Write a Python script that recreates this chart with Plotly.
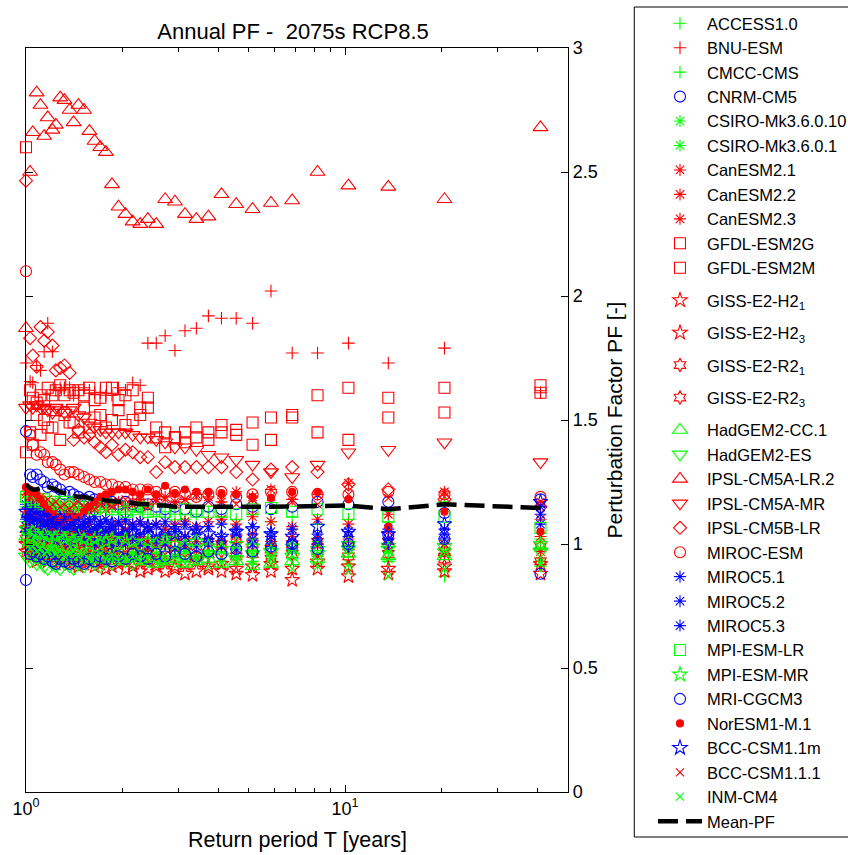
import plotly.graph_objects as go

# Return periods (years) of the ranked annual values, largest first
T = [41.0, 20.5, 13.67, 10.25, 8.2, 6.83, 5.86, 5.13, 4.56, 4.1, 3.73, 3.42, 3.15, 2.93, 2.73,
     2.56, 2.41, 2.28, 2.16, 2.05, 1.95, 1.86, 1.78, 1.71, 1.64, 1.58, 1.52, 1.46, 1.41, 1.37,
     1.32, 1.28, 1.24, 1.21, 1.17, 1.14, 1.11, 1.08, 1.05, 1.03, 1.0]

ACCESS1_0 = [0.91, 0.87, 0.93, 0.95, 0.92, 0.94, 0.96, 0.93, 0.95, 0.97, 0.96, 0.94, 0.95, 0.97, 0.98, 0.96, 0.97, 0.99, 0.98, 0.97, 0.99, 1.00, 0.98, 0.99, 1.01, 1.00, 1.02, 1.01, 1.03, 1.02, 1.04, 1.03, 1.05, 1.04, 1.06, 1.05, 1.07, 1.06, 1.08, 1.10, 1.12]
BNU_ESM = [1.61, 1.79, 1.73, 1.81, 1.77, 1.77, 2.02, 1.89, 1.91, 1.91, 1.92, 1.87, 1.86, 1.78, 1.84, 1.81, 1.81, 1.64, 1.65, 1.62, 1.63, 1.60, 1.60, 1.61, 1.61, 1.62, 1.63, 1.62, 1.60, 1.63, 1.63, 1.63, 1.62, 1.775, 1.89, 1.775, 1.70, 1.72, 1.65, 1.655, 1.73]
CMCC_CMS = [1.02, 1.17, 1.09, 1.10, 1.08, 1.11, 1.09, 1.12, 1.10, 1.11, 1.13, 1.12, 1.10, 1.12, 1.13, 1.11, 1.12, 1.14, 1.13, 1.12, 1.14, 1.13, 1.15, 1.14, 1.13, 1.15, 1.14, 1.16, 1.15, 1.14, 1.16, 1.15, 1.17, 1.16, 1.15, 1.17, 1.16, 1.18, 1.17, 1.16, 1.15]
CNRM_CM5 = [1.18, 1.125, 1.17, 1.16, 1.17, 1.15, 1.14, 1.15, 1.16, 1.14, 1.15, 1.13, 1.14, 1.15, 1.14, 1.15, 1.16, 1.15, 1.16, 1.17, 1.16, 1.17, 1.18, 1.17, 1.18, 1.19, 1.18, 1.19, 1.20, 1.21, 1.20, 1.22, 1.23, 1.24, 1.23, 1.25, 1.26, 1.28, 1.27, 1.28, 1.455]
CSIRO_10 = [0.98, 1.00, 0.97, 0.99, 1.01, 0.98, 1.00, 1.02, 0.99, 1.01, 1.00, 1.02, 1.01, 1.03, 1.02, 1.00, 1.02, 1.03, 1.01, 1.03, 1.04, 1.02, 1.04, 1.03, 1.05, 1.04, 1.03, 1.05, 1.06, 1.04, 1.06, 1.05, 1.07, 1.06, 1.05, 1.07, 1.08, 1.06, 1.08, 1.07, 1.09]
CSIRO_1 = [0.93, 0.96, 0.94, 0.92, 0.95, 0.97, 0.94, 0.96, 0.95, 0.93, 0.96, 0.95, 0.97, 0.95, 0.94, 0.96, 0.95, 0.97, 0.96, 0.95, 0.97, 0.96, 0.98, 0.97, 0.96, 0.98, 0.97, 0.99, 0.98, 0.97, 0.99, 0.98, 1.00, 0.99, 0.98, 1.00, 0.99, 1.01, 1.00, 0.99, 1.01]
CanESM2_1 = [1.10, 1.21, 1.12, 1.245, 1.20, 1.18, 1.22, 1.19, 1.21, 1.17, 1.19, 1.20, 1.18, 1.17, 1.19, 1.18, 1.16, 1.18, 1.17, 1.15, 1.17, 1.16, 1.14, 1.16, 1.15, 1.13, 1.15, 1.14, 1.12, 1.14, 1.13, 1.11, 1.13, 1.12, 1.14, 1.13, 1.15, 1.14, 1.16, 1.18, 1.20]
CanESM2_2 = [1.03, 1.00, 1.05, 1.08, 1.10, 1.07, 1.09, 1.11, 1.08, 1.10, 1.09, 1.07, 1.09, 1.08, 1.06, 1.08, 1.07, 1.09, 1.08, 1.06, 1.08, 1.07, 1.05, 1.07, 1.06, 1.08, 1.07, 1.05, 1.07, 1.06, 1.08, 1.07, 1.09, 1.08, 1.10, 1.09, 1.11, 1.10, 1.12, 1.11, 1.13]
CanESM2_3 = [0.97, 0.96, 0.99, 1.02, 1.00, 1.03, 1.01, 1.04, 1.02, 1.00, 1.02, 1.01, 1.03, 1.02, 1.00, 1.02, 1.01, 1.03, 1.02, 1.04, 1.03, 1.01, 1.03, 1.02, 1.04, 1.03, 1.05, 1.04, 1.02, 1.04, 1.03, 1.05, 1.04, 1.06, 1.05, 1.03, 1.05, 1.06, 1.04, 1.06, 1.07]
GFDL_ESM2G = [1.64, 1.63, 1.59, 1.63, 1.60, 1.52, 1.51, 1.49, 1.46, 1.48, 1.45, 1.47, 1.45, 1.43, 1.45, 1.47, 1.59, 1.55, 1.62, 1.60, 1.58, 1.63, 1.63, 1.59, 1.58, 1.63, 1.60, 1.62, 1.61, 1.62, 1.60, 1.64, 1.62, 1.60, 1.63, 1.58, 1.60, 1.57, 1.59, 1.62, 2.60]
GFDL_ESM2M = [1.61, 1.53, 1.51, 1.42, 1.45, 1.51, 1.42, 1.40, 1.44, 1.45, 1.42, 1.43, 1.41, 1.43, 1.39, 1.43, 1.55, 1.52, 1.50, 1.48, 1.54, 1.50, 1.47, 1.52, 1.51, 1.47, 1.55, 1.45, 1.49, 1.49, 1.52, 1.42, 1.54, 1.47, 1.47, 1.50, 1.44, 1.52, 1.40, 1.45, 1.37]
GISS_H2_1 = [0.88, 0.89, 0.88, 0.87, 0.90, 0.855, 0.89, 0.875, 0.88, 0.89, 0.90, 0.89, 0.88, 0.90, 0.89, 0.91, 0.90, 0.89, 0.91, 0.90, 0.92, 0.91, 0.90, 0.92, 0.91, 0.93, 0.92, 0.91, 0.93, 0.92, 0.94, 0.93, 0.92, 0.94, 0.93, 0.95, 0.94, 0.93, 0.95, 0.96, 0.97]
GISS_H2_3 = [0.92, 0.91, 0.90, 0.91, 0.93, 0.90, 0.92, 0.91, 0.90, 0.92, 0.91, 0.93, 0.92, 0.91, 0.93, 0.92, 0.94, 0.93, 0.92, 0.94, 0.93, 0.95, 0.94, 0.93, 0.95, 0.94, 0.96, 0.95, 0.94, 0.96, 0.95, 0.97, 0.96, 0.95, 0.97, 0.96, 0.98, 0.97, 0.99, 0.98, 1.00]
GISS_R2_1 = [0.93, 0.94, 0.96, 0.95, 0.97, 0.96, 0.94, 0.96, 0.95, 0.97, 0.96, 0.95, 0.97, 0.96, 0.98, 0.97, 0.96, 0.98, 0.97, 0.99, 0.98, 0.97, 0.99, 0.98, 1.00, 0.99, 0.98, 1.00, 0.99, 1.01, 1.00, 0.99, 1.01, 1.00, 1.02, 1.01, 1.00, 1.02, 1.01, 1.03, 1.02]
GISS_R2_3 = [0.99, 0.97, 1.01, 0.99, 1.01, 1.00, 0.98, 1.00, 1.02, 1.00, 1.01, 0.99, 1.01, 1.00, 1.02, 1.01, 0.99, 1.01, 1.00, 1.02, 1.01, 1.03, 1.02, 1.00, 1.02, 1.01, 1.03, 1.02, 1.04, 1.03, 1.01, 1.03, 1.02, 1.04, 1.03, 1.05, 1.04, 1.02, 1.04, 1.05, 1.06]
HadGEM2_CC = [0.99, 0.95, 0.95, 0.96, 0.94, 0.93, 0.92, 0.91, 0.93, 0.92, 0.94, 0.93, 0.92, 0.94, 0.93, 0.92, 0.94, 0.93, 0.95, 0.94, 0.93, 0.95, 0.94, 0.96, 0.95, 0.94, 0.96, 0.95, 0.97, 0.96, 0.95, 0.97, 0.96, 0.98, 0.97, 0.96, 0.98, 1.00, 0.99, 1.01, 1.03]
HadGEM2_ES = [0.97, 0.99, 0.99, 0.98, 0.96, 0.95, 0.97, 0.96, 0.94, 0.95, 0.96, 0.94, 0.95, 0.93, 0.94, 0.95, 0.93, 0.94, 0.92, 0.93, 0.94, 0.92, 0.93, 0.91, 0.92, 0.93, 0.91, 0.92, 0.90, 0.91, 0.92, 0.90, 0.91, 0.92, 0.90, 0.91, 0.93, 0.92, 0.94, 0.93, 0.95]
IPSL_CM5A_LR = [2.68, 2.39, 2.44, 2.445, 2.50, 2.385, 2.375, 2.35, 2.37, 2.41, 2.32, 2.31, 2.33, 2.38, 2.39, 2.29, 2.31, 2.29, 2.30, 2.33, 2.36, 2.45, 2.58, 2.60, 2.625, 2.665, 2.75, 2.77, 2.70, 2.75, 2.79, 2.80, 2.69, 2.67, 2.72, 2.645, 2.77, 2.82, 2.66, 2.50, 1.87]
IPSL_CM5A_MR = [1.33, 1.41, 1.38, 1.37, 1.32, 1.27, 1.29, 1.32, 1.34, 1.35, 1.36, 1.38, 1.39, 1.39, 1.41, 1.42, 1.43, 1.43, 1.44, 1.45, 1.45, 1.45, 1.45, 1.46, 1.47, 1.49, 1.51, 1.52, 1.55, 1.54, 1.53, 1.54, 1.55, 1.53, 1.54, 1.55, 1.55, 1.56, 1.55, 1.56, 1.55]
IPSL_CM5B_LR = [1.15, 1.18, 1.22, 1.24, 1.29, 1.31, 1.30, 1.26, 1.29, 1.31, 1.31, 1.31, 1.31, 1.31, 1.33, 1.29, 1.35, 1.35, 1.37, 1.38, 1.36, 1.40, 1.37, 1.39, 1.41, 1.44, 1.43, 1.46, 1.42, 1.69, 1.72, 1.71, 1.70, 1.80, 1.855, 1.82, 1.875, 1.715, 1.76, 1.83, 2.465]
MIROC_ESM = [1.19, 1.20, 1.21, 1.20, 1.20, 1.21, 1.21, 1.20, 1.19, 1.21, 1.20, 1.19, 1.20, 1.21, 1.21, 1.21, 1.22, 1.22, 1.22, 1.23, 1.23, 1.24, 1.24, 1.25, 1.25, 1.26, 1.27, 1.28, 1.29, 1.29, 1.28, 1.30, 1.32, 1.33, 1.33, 1.36, 1.37, 1.36, 1.40, 1.44, 2.10]
MIROC5_1 = [1.15, 1.06, 1.02, 1.05, 1.04, 1.06, 1.05, 1.07, 1.06, 1.08, 1.07, 1.06, 1.08, 1.07, 1.09, 1.08, 1.07, 1.09, 1.08, 1.10, 1.09, 1.08, 1.10, 1.09, 1.11, 1.10, 1.09, 1.11, 1.10, 1.12, 1.11, 1.10, 1.12, 1.11, 1.13, 1.12, 1.14, 1.13, 1.15, 1.14, 1.16]
MIROC5_2 = [1.12, 1.04, 1.06, 1.03, 1.02, 1.01, 1.03, 1.02, 1.04, 1.03, 1.02, 1.04, 1.03, 1.05, 1.04, 1.03, 1.05, 1.04, 1.06, 1.05, 1.04, 1.06, 1.05, 1.07, 1.06, 1.05, 1.07, 1.06, 1.08, 1.07, 1.06, 1.08, 1.07, 1.09, 1.08, 1.07, 1.09, 1.10, 1.09, 1.11, 1.10]
MIROC5_3 = [1.08, 1.02, 1.00, 0.99, 1.00, 0.98, 0.99, 1.00, 0.98, 0.99, 1.01, 0.99, 1.00, 0.98, 1.00, 1.01, 0.99, 1.00, 1.02, 1.00, 1.01, 0.99, 1.01, 1.02, 1.00, 1.02, 1.01, 1.03, 1.02, 1.00, 1.02, 1.03, 1.01, 1.03, 1.04, 1.02, 1.04, 1.05, 1.03, 1.06, 1.05]
MPI_ESM_LR = [1.065, 1.11, 1.11, 1.12, 1.14, 1.13, 1.145, 1.14, 1.12, 1.13, 1.13, 1.13, 1.14, 1.12, 1.13, 1.14, 1.13, 1.15, 1.14, 1.13, 1.15, 1.14, 1.16, 1.15, 1.14, 1.16, 1.15, 1.17, 1.16, 1.15, 1.17, 1.16, 1.15, 1.17, 1.16, 1.18, 1.17, 1.16, 1.18, 1.17, 1.19]
MPI_ESM_MR = [1.00, 0.97, 0.98, 1.00, 0.98, 0.99, 0.97, 0.99, 1.00, 0.98, 0.99, 1.01, 0.99, 1.00, 1.02, 1.00, 1.01, 0.99, 1.01, 1.02, 1.00, 1.02, 1.01, 1.03, 1.02, 1.00, 1.02, 1.03, 1.01, 1.03, 1.02, 1.04, 1.03, 1.01, 1.03, 1.04, 1.02, 1.04, 1.05, 1.03, 1.06]
MRI_CGCM3 = [0.88, 1.02, 1.036, 1.00, 0.98, 1.00, 0.99, 0.97, 0.98, 0.96, 0.97, 0.95, 0.96, 0.97, 0.95, 0.96, 0.94, 0.95, 0.96, 0.94, 0.95, 0.93, 0.94, 0.95, 0.93, 0.94, 0.92, 0.93, 0.94, 0.92, 0.93, 0.94, 0.92, 0.93, 0.95, 0.94, 0.96, 0.95, 0.97, 0.96, 0.855]
NorESM1_M = [1.05, 1.13, 1.07, 1.18, 1.21, 1.21, 1.185, 1.19, 1.20, 1.205, 1.21, 1.21, 1.22, 1.205, 1.235, 1.20, 1.22, 1.20, 1.21, 1.22, 1.22, 1.21, 1.20, 1.19, 1.17, 1.15, 1.13, 1.11, 1.10, 1.11, 1.09, 1.10, 1.11, 1.12, 1.14, 1.16, 1.18, 1.20, 1.21, 1.22, 1.23]
BCC_CSM1_1m = [1.17, 1.08, 1.04, 1.05, 1.07, 1.03, 1.04, 1.06, 1.05, 1.03, 1.04, 1.06, 1.05, 1.04, 1.06, 1.05, 1.07, 1.06, 1.05, 1.07, 1.06, 1.08, 1.07, 1.06, 1.08, 1.07, 1.09, 1.08, 1.07, 1.09, 1.08, 1.10, 1.09, 1.08, 1.10, 1.11, 1.09, 1.11, 1.12, 1.10, 1.13]
BCC_CSM1_1_1 = [1.17, 1.19, 1.185, 1.20, 1.16, 1.17, 1.19, 1.18, 1.16, 1.18, 1.17, 1.19, 1.18, 1.16, 1.18, 1.17, 1.15, 1.17, 1.16, 1.18, 1.17, 1.15, 1.17, 1.16, 1.14, 1.16, 1.15, 1.17, 1.16, 1.14, 1.16, 1.15, 1.17, 1.16, 1.18, 1.17, 1.19, 1.18, 1.20, 1.19, 1.21]
INM_CM4 = [0.92, 0.90, 0.87, 0.89, 0.91, 0.90, 0.92, 0.91, 0.93, 0.92, 0.91, 0.93, 0.92, 0.94, 0.93, 0.92, 0.94, 0.93, 0.95, 0.94, 0.93, 0.95, 0.94, 0.96, 0.95, 0.94, 0.96, 0.95, 0.97, 0.96, 0.95, 0.97, 0.96, 0.98, 0.97, 0.96, 0.98, 0.97, 0.99, 0.98, 1.00]
MEAN_PF = [1.145, 1.16, 1.14, 1.155, 1.153, 1.15, 1.15, 1.15, 1.15, 1.15, 1.15, 1.15, 1.15, 1.15, 1.155, 1.155, 1.16, 1.16, 1.165, 1.167, 1.17, 1.17, 1.175, 1.18, 1.18, 1.185, 1.19, 1.19, 1.195, 1.20, 1.205, 1.21, 1.22, 1.225, 1.23, 1.23, 1.225, 1.22, 1.22, 1.225, 1.24]

R, G, B = "rgb(255,0,0)", "rgb(0,255,0)", "rgb(0,0,255)"

# name, values, color, symbol, size, legend group
models = [
    ("ACCESS1.0", ACCESS1_0, G, "cross-thin-open", 9, "a"),
    ("BNU-ESM", BNU_ESM, R, "cross-thin-open", 9, "a"),
    ("CMCC-CMS", CMCC_CMS, G, "cross-thin-open", 9, "a"),
    ("CNRM-CM5", CNRM_CM5, B, "circle-open", 11, "a"),
    ("CSIRO-Mk3.6.0.10", CSIRO_10, G, "asterisk-open", 10, "a"),
    ("CSIRO-Mk3.6.0.1", CSIRO_1, G, "asterisk-open", 10, "a"),
    ("CanESM2.1", CanESM2_1, R, "asterisk-open", 10, "a"),
    ("CanESM2.2", CanESM2_2, R, "asterisk-open", 10, "a"),
    ("CanESM2.3", CanESM2_3, R, "asterisk-open", 10, "a"),
    ("GFDL-ESM2G", GFDL_ESM2G, R, "square-open", 11, "a"),
    ("GFDL-ESM2M", GFDL_ESM2M, R, "square-open", 11, "a"),
    ("GISS-E2-H2<sub>1</sub>", GISS_H2_1, R, "star-open", 11, "g1"),
    ("GISS-E2-H2<sub>3</sub>", GISS_H2_3, R, "star-open", 11, "g2"),
    ("GISS-E2-R2<sub>1</sub>", GISS_R2_1, R, "hexagram-open", 10, "g3"),
    ("GISS-E2-R2<sub>3</sub>", GISS_R2_3, R, "hexagram-open", 10, "g4"),
    ("HadGEM2-CC.1", HadGEM2_CC, G, "triangle-up-open", 13, "b"),
    ("HadGEM2-ES", HadGEM2_ES, G, "triangle-down-open", 13, "b"),
    ("IPSL-CM5A-LR.2", IPSL_CM5A_LR, R, "triangle-up-open", 13, "b"),
    ("IPSL-CM5A-MR", IPSL_CM5A_MR, R, "triangle-down-open", 13, "b"),
    ("IPSL-CM5B-LR", IPSL_CM5B_LR, R, "diamond-open", 10, "b"),
    ("MIROC-ESM", MIROC_ESM, R, "circle-open", 11, "b"),
    ("MIROC5.1", MIROC5_1, B, "asterisk-open", 10, "b"),
    ("MIROC5.2", MIROC5_2, B, "asterisk-open", 10, "b"),
    ("MIROC5.3", MIROC5_3, B, "asterisk-open", 10, "b"),
    ("MPI-ESM-LR", MPI_ESM_LR, G, "square-open", 11, "b"),
    ("MPI-ESM-MR", MPI_ESM_MR, G, "star-open", 11, "b"),
    ("MRI-CGCM3", MRI_CGCM3, B, "circle-open", 11, "b"),
    ("NorESM1-M.1", NorESM1_M, R, "circle", 7, "b"),
    ("BCC-CSM1.1m", BCC_CSM1_1m, B, "star-open", 11, "b"),
    ("BCC-CSM1.1.1", BCC_CSM1_1_1, R, "x-thin-open", 8, "b"),
    ("INM-CM4", INM_CM4, G, "x-thin-open", 8, "b"),
]

fig = go.Figure()
for name, vals, col, sym, sz, grp in models:
    fig.add_trace(go.Scatter(
        x=T, y=vals, mode="markers", name=name, legendgroup=grp, cliponaxis=False,
        marker=dict(symbol=sym, size=sz, color=col, line=dict(color=col, width=1.1)),
    ))

fig.add_trace(go.Scatter(
    x=T, y=MEAN_PF, mode="lines", name="Mean-PF", legendgroup="b",
    line=dict(color="black", width=4.5, dash="20px,8px"),
))

# legend frame (left edge at 635 px, runs past the right edge of the figure)
fig.add_shape(type="rect", xref="paper", yref="paper",
              x0=(635 - 20) / 548, x1=(870 - 20) / 548,
              y0=(792 - 837) / 744, y1=(792 - 7) / 744,
              line=dict(color="black", width=1), fillcolor="rgba(0,0,0,0)", layer="above")

# x-axis title placed as an annotation so it cannot move the plot area
fig.add_annotation(text="Return period T [years]", xref="paper", yref="paper",
                   x=0.5, y=(792 - 840) / 744, xanchor="center", yanchor="middle",
                   showarrow=False, font=dict(size=21.5))

fig.update_layout(
    width=848, height=855,
    margin=dict(l=20, r=280, t=48, b=63),
    plot_bgcolor="white", paper_bgcolor="white",
    font=dict(family="Liberation Sans, Arial, sans-serif", color="black", size=18),
    title=dict(text="Annual PF - \u00a02075s RCP8.5", x=293 / 848, xanchor="center",
               y=1 - 31 / 855, yanchor="middle", font=dict(size=22)),
    showlegend=True,
    legend=dict(
        xref="container", yref="container", x=653 / 848, y=1 - 6 / 855,
        xanchor="left", yanchor="top", maxheight=850,
        borderwidth=0, bgcolor="rgba(0,0,0,0)",
        font=dict(size=16.5), itemwidth=44, tracegroupgap=8,
    ),
)

fig.update_xaxes(
    type="log", range=[0, 1.699],
    tickvals=[1, 10], ticktext=["10<sup>0</sup>", "10<sup>1</sup>"],
    ticks="inside", ticklen=7, tickcolor="black",
    minor=dict(tickmode="array", tickvals=[2, 3, 4, 5, 6, 7, 8, 9, 20, 30, 40, 50],
               ticks="inside", ticklen=4, tickcolor="black"),
    showline=True, linecolor="black", linewidth=1.2, mirror="ticks",
    showgrid=False, zeroline=False,
)
fig.update_yaxes(
    side="right", range=[0, 3],
    tickvals=[0, 0.5, 1, 1.5, 2, 2.5, 3], ticktext=["0", "0.5", "1", "1.5", "2", "2.5", "3"],
    ticks="inside", ticklen=7, tickcolor="black",
    showline=True, linecolor="black", linewidth=1.2, mirror="ticks",
    showgrid=False, zeroline=False,
    title=dict(text="Perturbation Factor PF [-]", font=dict(size=21), standoff=10),
)

fig.write_html("out.html")
